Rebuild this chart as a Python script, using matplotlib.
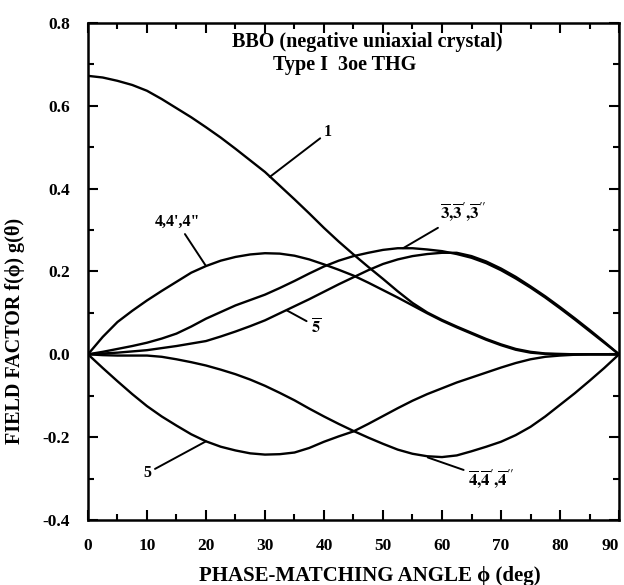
import matplotlib
matplotlib.use("Agg")
import matplotlib.pyplot as plt
from matplotlib.ticker import MultipleLocator, FormatStrFormatter

plt.rcParams['font.family'] = ['Liberation Serif', 'DejaVu Serif']
plt.rcParams['font.weight'] = 'bold'
plt.rcParams['axes.labelweight'] = 'bold'
plt.rcParams['mathtext.fontset'] = 'stix'
plt.rcParams['axes.unicode_minus'] = False

# phase-matching angle (deg)
phi = [0, 2.5, 5, 7.5, 10, 12.5, 15, 17.5, 20, 22.5, 25, 27.5, 30, 32.5, 35, 37.5,
       40, 42.5, 45, 47.5, 50, 52.5, 55, 57.5, 60, 62.5, 65, 67.5, 70, 72.5, 75,
       77.5, 80, 82.5, 85, 87.5, 90]

# field factor curves
c1 = [0.672, 0.668, 0.660, 0.650, 0.636, 0.616, 0.594, 0.572, 0.548, 0.523,
      0.496, 0.468, 0.440, 0.407, 0.374, 0.340, 0.305, 0.272, 0.241, 0.211,
      0.182, 0.152, 0.124, 0.101, 0.083, 0.067, 0.052, 0.037, 0.024, 0.013,
      0.006, 0.002, 0.001, 0.0, 0.0, 0.0, 0.0]
c4 = [0.0, 0.042, 0.078, 0.105, 0.130, 0.153, 0.175, 0.197, 0.213, 0.226,
      0.235, 0.241, 0.244, 0.243, 0.238, 0.229, 0.217, 0.204, 0.190, 0.173,
      0.155, 0.137, 0.118, 0.099, 0.081, 0.065, 0.050, 0.035, 0.022, 0.011,
      0.004, 0.001, 0.0, 0.0, 0.0, 0.0, 0.0]
c3b = [0.0, 0.006, 0.013, 0.020, 0.028, 0.038, 0.050, 0.067, 0.086, 0.102,
       0.118, 0.131, 0.144, 0.160, 0.177, 0.195, 0.212, 0.226, 0.237, 0.245,
       0.252, 0.256, 0.256, 0.253, 0.249, 0.242, 0.233, 0.220, 0.203, 0.183,
       0.161, 0.137, 0.111, 0.084, 0.056, 0.028, 0.0]
c5b = [0.0, 0.002, 0.004, 0.007, 0.010, 0.015, 0.020, 0.026, 0.032, 0.043,
       0.055, 0.068, 0.082, 0.099, 0.116, 0.133, 0.151, 0.169, 0.186, 0.203,
       0.218, 0.229, 0.237, 0.242, 0.245, 0.245, 0.237, 0.224, 0.207, 0.187,
       0.164, 0.140, 0.114, 0.087, 0.059, 0.030, 0.0]
c5 = [0.0, -0.033, -0.065, -0.096, -0.125, -0.150, -0.172, -0.193, -0.210, -0.223,
      -0.232, -0.239, -0.242, -0.241, -0.237, -0.226, -0.211, -0.198, -0.186, -0.168,
      -0.149, -0.130, -0.112, -0.096, -0.082, -0.068, -0.056, -0.044, -0.032, -0.021,
      -0.012, -0.006, -0.003, -0.001, 0.0, 0.0, 0.0]
c4b = [0.0, -0.002, -0.003, -0.003, -0.003, -0.006, -0.012, -0.019, -0.027, -0.037,
       -0.048, -0.061, -0.076, -0.093, -0.111, -0.131, -0.150, -0.168, -0.185, -0.201,
       -0.216, -0.230, -0.240, -0.246, -0.248, -0.244, -0.234, -0.223, -0.211, -0.195,
       -0.175, -0.150, -0.122, -0.094, -0.064, -0.033, 0.0]

fig = plt.figure(figsize=(6.24, 5.85), dpi=100)
ax = fig.add_axes([0.141, 0.111, 0.851, 0.850])

for y in [c1, c4, c3b, c5b, c5, c4b]:
    ax.plot(phi, y, color='black', lw=1.7)

ax.set_xlim(0, 90)
ax.set_ylim(-0.4, 0.8)
ax.set_xticks(range(0, 91, 10))
ax.xaxis.set_minor_locator(MultipleLocator(5))
ax.yaxis.set_major_locator(MultipleLocator(0.2))
ax.yaxis.set_minor_locator(MultipleLocator(0.1))
ax.yaxis.set_major_formatter(FormatStrFormatter('%.1f'))
ax.tick_params(which='both', direction='in', top=True, right=True, width=1.5)
ax.tick_params(which='major', length=7, labelsize=12.5, pad=13)
ax.tick_params(which='minor', length=4)
for s in ax.spines.values():
    s.set_linewidth(1.8)
# keep the last x label inside the figure
ax.get_xticklabels()[-1].set_horizontalalignment('right')

ax.set_xlabel('PHASE-MATCHING ANGLE \u03d5 (deg)', fontsize=15)
ax.xaxis.set_label_coords(0.531, -0.093)
ax.set_ylabel('FIELD FACTOR f(\u03d5) g(\u03b8)', fontsize=14.5)
ax.yaxis.set_label_coords(-0.118, 0.38)

ax.text(24.4, 0.754, 'BBO (negative uniaxial crystal)', fontsize=14.5, va='center')
ax.text(31.4, 0.698, 'Type I  3oe THG', fontsize=14.5, va='center')

arrow = dict(arrowstyle='-', lw=1.4, color='black', shrinkA=1, shrinkB=0)
ax.annotate('1', xy=(30.8, 0.428), xytext=(40.7, 0.536), fontsize=11.5,
            ha='center', va='center', arrowprops=arrow)
ax.annotate("4,4',4\"", xy=(phi[8], c4[8]), xytext=(15.1, 0.319), fontsize=11.5,
            ha='center', va='center', arrowprops=arrow)
ax.annotate(r"$\mathbf{\overline{3}{,}\overline{3}'{,}\overline{3}''}$", xy=(53.4, 0.256),
            xytext=(63.6, 0.341), fontsize=12, ha='center', va='center', arrowprops=arrow)
ax.annotate(r"$\mathbf{\overline{5}}$", xy=(33.7, 0.106), xytext=(38.6, 0.068),
            fontsize=12, ha='center', va='center', arrowprops=arrow)
ax.annotate('5', xy=(phi[8], c5[8]), xytext=(10.0, -0.287), fontsize=11.5,
            ha='center', va='center', arrowprops=arrow)
ax.annotate(r"$\mathbf{\overline{4}{,}\overline{4}'{,}\overline{4}''}$", xy=(57.6, -0.249),
            xytext=(68.3, -0.302), fontsize=12, ha='center', va='center', arrowprops=arrow)

fig.savefig('out.png', dpi=100)
